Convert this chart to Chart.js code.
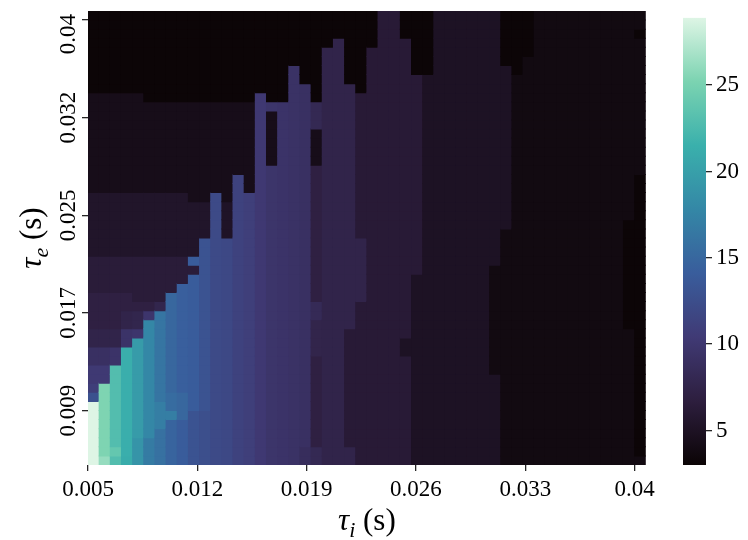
<!DOCTYPE html>
<html>
<head>
<meta charset="utf-8">
<script src="https://cdn.jsdelivr.net/npm/chart.js@4.4.1/dist/chart.umd.min.js"></script>
<style>
  html, body { margin: 0; padding: 0; background: #fff; }
  #wrap { position: relative; width: 748px; height: 540px; }
  #heat { position: absolute; left: 0; top: 0; }
  #cbar { position: absolute; left: 660px; top: 0; }
</style>
</head>
<body>
<div id="wrap">
  <canvas id="heat" width="660" height="540"></canvas>
  <canvas id="cbar" width="88" height="540"></canvas>
</div>
<script>
// tau_i along x (50 columns), tau_e along y (50 rows)
const tauITicks = ['0.005', '0.012', '0.019', '0.026', '0.033', '0.04'];
const tauIPos = [0, 9.8, 19.6, 29.4, 39.2, 49];
const tauETicks = ['0.009', '0.017', '0.025', '0.032', '0.04'];
const tauEPos = [6, 16.75, 27.5, 38.25, 49];
const cbarTicks = [5, 10, 15, 20, 25];
const zMin = 3.0;
const zMax = 28.9;

// one entry per tau_i column, runs of [value, rows] from the bottom row up
const heatCols = [
  [[28.9, 7], [12.8, 1], [10.8, 1], [10.3, 2], [9.1, 2], [7.5, 2], [7.0, 4], [6.4, 4], [5.4, 7], [4.3, 11], [3.1, 9]],
  [[26.2, 1], [25.3, 8], [10.3, 2], [9.1, 2], [7.5, 2], [7.0, 4], [6.4, 4], [5.4, 7], [4.3, 11], [3.1, 9]],
  [[22.9, 1], [23.9, 1], [22.9, 9], [9.5, 2], [7.5, 2], [7.0, 4], [6.4, 4], [5.4, 7], [4.3, 11], [3.1, 9]],
  [[21.1, 1], [21.3, 12], [9.5, 2], [7.5, 2], [7.0, 2], [6.4, 4], [5.4, 7], [4.3, 11], [3.1, 9]],
  [[19.0, 3], [19.6, 11], [9.8, 1], [7.7, 2], [7.0, 1], [6.4, 5], [5.4, 7], [4.3, 11], [3.1, 9]],
  [[16.7, 3], [17.8, 13], [9.8, 1], [7.0, 1], [6.4, 5], [5.4, 7], [4.3, 10], [3.1, 10]],
  [[15.9, 4], [17.0, 3], [16.2, 10], [7.7, 1], [6.4, 5], [5.4, 7], [4.3, 10], [3.1, 10]],
  [[14.7, 5], [17.0, 1], [15.4, 2], [15.0, 11], [6.4, 4], [5.4, 7], [4.3, 10], [3.1, 10]],
  [[14.0, 5], [15.0, 3], [14.3, 12], [6.4, 3], [5.4, 7], [4.3, 10], [3.1, 10]],
  [[13.1, 6], [14.0, 15], [6.4, 1], [14.0, 1], [5.4, 6], [4.3, 11], [3.1, 10]],
  [[12.6, 6], [13.1, 19], [5.4, 4], [4.3, 11], [3.1, 10]],
  [[12.1, 30], [4.3, 10], [3.1, 10]],
  [[11.9, 25], [5.2, 4], [4.3, 11], [3.1, 10]],
  [[11.3, 32], [4.3, 8], [3.1, 10]],
  [[10.9, 30], [4.3, 10], [3.1, 10]],
  [[10.2, 41], [3.1, 9]],
  [[9.7, 33], [4.3, 6], [9.7, 1], [3.1, 10]],
  [[9.5, 40], [3.1, 10]],
  [[9.3, 44], [3.1, 6]],
  [[8.7, 2], [9.1, 40], [3.1, 8]],
  [[8.1, 2], [7.0, 10], [7.6, 4], [8.3, 2], [7.0, 15], [4.3, 4], [8.1, 3], [3.1, 10]],
  [[7.5, 46], [3.1, 4]],
  [[7.5, 47], [3.1, 3]],
  [[7.5, 2], [6.2, 13], [7.5, 27], [3.1, 8]],
  [[6.2, 18], [7.5, 7], [6.2, 16], [3.1, 9]],
  [[6.2, 46], [3.1, 4]],
  [[6.2, 50]],
  [[6.2, 50]],
  [[6.2, 12], [5.0, 2], [6.2, 33], [3.1, 3]],
  [[5.0, 21], [6.2, 22], [3.1, 7]],
  [[5.0, 43], [3.1, 7]],
  [[5.0, 50]],
  [[5.0, 50]],
  [[5.0, 50]],
  [[5.0, 50]],
  [[5.0, 50]],
  [[5.0, 10], [3.8, 12], [5.0, 28]],
  [[3.8, 26], [5.0, 18], [3.1, 6]],
  [[3.8, 43], [3.1, 7]],
  [[3.8, 45], [3.1, 5]],
  [[3.8, 50]],
  [[3.8, 50]],
  [[3.8, 50]],
  [[3.8, 50]],
  [[3.8, 50]],
  [[3.8, 50]],
  [[3.8, 50]],
  [[3.8, 50]],
  [[3.8, 15], [3.1, 12], [3.8, 23]],
  [[3.8, 1], [3.1, 31], [3.8, 15], [3.1, 1], [3.8, 2]]
];

// seaborn "mako"
const makoStops = [
  [0.000, [11, 4, 5]],
  [0.143, [45, 30, 62]],
  [0.286, [64, 58, 117]],
  [0.429, [57, 93, 156]],
  [0.571, [52, 135, 166]],
  [0.714, [58, 176, 172]],
  [0.857, [123, 211, 177]],
  [1.000, [222, 245, 229]]
];

function makoColor(v) {
  const t = Math.min(1, Math.max(0, (v - zMin) / (zMax - zMin)));
  for (let i = 1; i < makoStops.length; i++) {
    const [t1, c1] = makoStops[i];
    if (t <= t1) {
      const [t0, c0] = makoStops[i - 1];
      const f = (t - t0) / (t1 - t0);
      const c = c0.map((a, k) => Math.round(a + (c1[k] - a) * f));
      return `rgb(${c[0]},${c[1]},${c[2]})`;
    }
  }
  return 'rgb(222,245,229)';
}

// expand the runs into single cells
const cells = [];
heatCols.forEach((runs, col) => {
  let row = 0;
  runs.forEach(([v, n]) => {
    for (let k = 0; k < n; k++, row++) {
      cells.push({ x: col + 0.5, y: [row, row + 1], v: v });
    }
  });
});

const serif = '"Liberation Serif", "Times New Roman", serif';
const tickFont = { family: serif, size: 23 };

function drawSymbol(ctx, sub, x, y, angle) {
  const parts = [
    ['\u03c4', 'italic 31px ' + serif, 0],
    [sub, 'italic 22px ' + serif, 7],
    [' (s)', '31px ' + serif, 0]
  ];
  let total = 0;
  parts.forEach(p => { ctx.font = p[1]; total += ctx.measureText(p[0]).width; });
  ctx.save();
  ctx.translate(x, y);
  ctx.rotate(angle);
  ctx.textAlign = 'left';
  ctx.textBaseline = 'alphabetic';
  let cx = -total / 2;
  parts.forEach(p => {
    ctx.font = p[1];
    ctx.fillText(p[0], cx, p[2]);
    cx += ctx.measureText(p[0]).width;
  });
  ctx.restore();
}

const axisText = {
  id: 'axisText',
  afterDraw(chart) {
    const { ctx, chartArea: a, scales: { y } } = chart;
    ctx.save();
    ctx.fillStyle = '#000';
    ctx.font = '23px ' + serif;
    ctx.textAlign = 'center';
    ctx.textBaseline = 'middle';
    tauEPos.forEach((p, i) => {
      // keep the top label inside the canvas
      const py = Math.max(y.getPixelForValue(p), a.top + 23);
      ctx.save();
      ctx.translate(a.left - 19, py);
      ctx.rotate(-Math.PI / 2);
      ctx.fillText(tauETicks[i], 0, 0);
      ctx.restore();
    });
    drawSymbol(ctx, 'i', (a.left + a.right) / 2, 530, 0);
    drawSymbol(ctx, 'e', 41, (a.top + a.bottom) / 2, -Math.PI / 2);
    ctx.restore();
  }
};

const tickGrid = { drawOnChartArea: false, offset: false, tickLength: 6, color: '#262626', lineWidth: 1.3 };

new Chart(document.getElementById('heat'), {
  type: 'bar',
  data: {
    datasets: [{
      data: cells,
      backgroundColor: c => makoColor(c.raw ? c.raw.v : zMin),
      borderWidth: 0,
      inflateAmount: 0.5,
      barPercentage: 1,
      categoryPercentage: 1
    }]
  },
  options: {
    responsive: false,
    animation: false,
    events: [],
    layout: { padding: { top: 11, right: 12 } },
    plugins: { legend: { display: false }, tooltip: { enabled: false } },
    scales: {
      x: {
        type: 'linear', min: 0, max: 50, offset: false,
        afterBuildTicks: s => { s.ticks = tauIPos.map(v => ({ value: v })); },
        afterFit: s => { s.height = 75; },
        ticks: { callback: (v, i) => tauITicks[i], font: tickFont, color: '#000', padding: 5, maxRotation: 0, autoSkip: false },
        grid: tickGrid,
        border: { display: false }
      },
      y: {
        type: 'linear', min: 0, max: 50, offset: false,
        afterBuildTicks: s => { s.ticks = tauEPos.map(v => ({ value: v })); },
        afterFit: s => { s.width = 88; },
        ticks: { callback: () => '', autoSkip: false },
        grid: tickGrid,
        border: { display: false }
      }
    }
  },
  plugins: [axisText]
});

// colour bar on the right
new Chart(document.getElementById('cbar'), {
  type: 'bar',
  data: {
    labels: [''],
    datasets: [{
      data: [[zMin, zMax]],
      backgroundColor: c => {
        const a = c.chart.chartArea;
        if (!a) return null;
        const g = c.chart.ctx.createLinearGradient(0, a.bottom, 0, a.top);
        makoStops.forEach(([t, rgb]) => g.addColorStop(t, `rgb(${rgb.join(',')})`));
        return g;
      },
      borderWidth: 0,
      barPercentage: 1,
      categoryPercentage: 1
    }]
  },
  options: {
    responsive: false,
    animation: false,
    events: [],
    layout: { padding: { left: 23, top: 11, bottom: 75 } },
    plugins: { legend: { display: false }, tooltip: { enabled: false } },
    scales: {
      x: { display: false },
      y: {
        position: 'right', min: zMin, max: zMax,
        afterBuildTicks: s => { s.ticks = cbarTicks.map(v => ({ value: v })); },
        afterFit: s => { s.width = 42; },
        ticks: { font: tickFont, color: '#000', padding: 4 },
        grid: tickGrid,
        border: { display: false }
      }
    }
  }
});
</script>
</body>
</html>
